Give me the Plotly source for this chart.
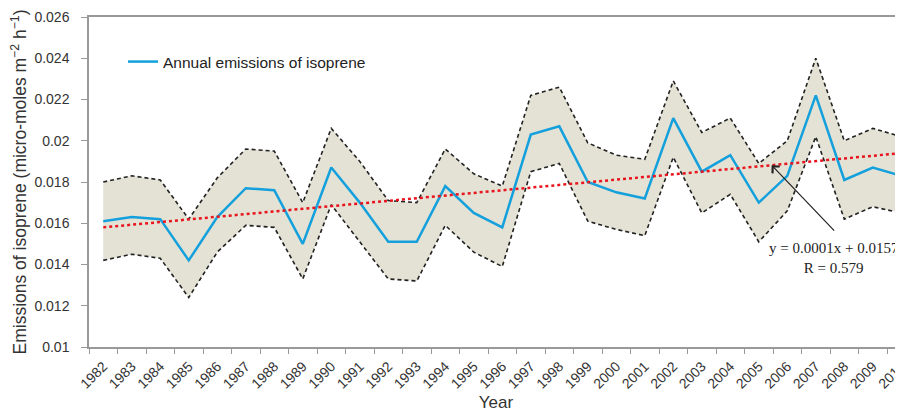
import plotly.graph_objects as go

years = [str(y) for y in range(1982, 2011)]

mean_emission = [0.0161, 0.0163, 0.0162, 0.0142, 0.0163, 0.0177, 0.0176, 0.0150, 0.0187, 0.0170,
                 0.0151, 0.0151, 0.0178, 0.0165, 0.0158, 0.0203, 0.0207, 0.0180, 0.0175, 0.0172,
                 0.0211, 0.0185, 0.0193, 0.0170, 0.0183, 0.0222, 0.0181, 0.0187, 0.0183]
upper_bound = [0.0180, 0.0183, 0.0181, 0.0162, 0.0182, 0.0196, 0.0195, 0.0170, 0.0206, 0.0190,
               0.0171, 0.0170, 0.0196, 0.0184, 0.0178, 0.0222, 0.0226, 0.0199, 0.0193, 0.0191,
               0.0229, 0.0204, 0.0211, 0.0189, 0.0200, 0.0240, 0.0200, 0.0206, 0.0202]
lower_bound = [0.0142, 0.0145, 0.0143, 0.0124, 0.0146, 0.0159, 0.0158, 0.0133, 0.0169, 0.0151,
               0.0133, 0.0132, 0.0159, 0.0146, 0.0139, 0.0185, 0.0189, 0.0161, 0.0157, 0.0154,
               0.0192, 0.0165, 0.0174, 0.0151, 0.0166, 0.0202, 0.0162, 0.0168, 0.0165]

trend_years = ["1982", "2010"]
trend_values = [0.0158, 0.0194]

y_ticks = [0.01, 0.012, 0.014, 0.016, 0.018, 0.02, 0.022, 0.024, 0.026]
y_tick_labels = ["0.01", "0.012", "0.014", "0.016", "0.018", "0.02", "0.022", "0.024", "0.026"]

FONT = "Liberation Sans, Arial, sans-serif"
# the page body has an 8px margin; size the figure so it fills the 903x412 window
OFF = 8
W, H = 903 - OFF, 412 - OFF
PL, PT, PB = 89, 17, 347          # plot area edges in window pixels
PW, PH = 903 - PL, PB - PT

fig = go.Figure()

fig.add_trace(go.Scatter(x=years, y=upper_bound, mode="lines", line=dict(width=0),
                         showlegend=False, hoverinfo="skip"))
fig.add_trace(go.Scatter(x=years, y=lower_bound, mode="lines", line=dict(width=0),
                         fill="tonexty", fillcolor="rgb(228,226,213)",
                         showlegend=False, hoverinfo="skip"))
for series in (upper_bound, lower_bound):
    fig.add_trace(go.Scatter(x=years, y=series, mode="lines",
                             line=dict(color="#222222", width=1.6, dash="4px,3px"),
                             showlegend=False))
fig.add_trace(go.Scatter(x=years, y=mean_emission, mode="lines",
                         name="Annual emissions of isoprene",
                         line=dict(color="#14a0dc", width=2.5)))
fig.add_trace(go.Scatter(x=trend_years, y=trend_values, mode="lines",
                         line=dict(color="#e8141e", width=2.5, dash="dot"),
                         showlegend=False))

arrow_x = 23.45
arrow_y = trend_values[0] + (trend_values[1] - trend_values[0]) * arrow_x / 28
fig.add_annotation(x=arrow_x, y=arrow_y, xref="x", yref="y", text="", showarrow=True,
                   ax=64, ay=67, arrowhead=4, arrowsize=1.6, arrowwidth=1.2, arrowcolor="#222222")
fig.add_annotation(x=(834 - PL) / PW, y=(PB - 258) / PH, xref="paper", yref="paper",
                   text="y = 0.0001x + 0.0157<br>R = 0.579", showarrow=False,
                   font=dict(family="Liberation Serif, Times New Roman, serif", size=15, color="#222222"),
                   align="center", xanchor="center", yanchor="middle")

fig.update_layout(
    width=W, height=H,
    margin=dict(l=PL - OFF, r=0, t=PT - OFF, b=412 - PB, autoexpand=False),
    paper_bgcolor="white", plot_bgcolor="white",
    font=dict(family=FONT, color="#333333"),
    legend=dict(x=(123 - PL) / PW, y=(PB - 62) / PH, xanchor="left", yanchor="middle",
                bgcolor="rgba(0,0,0,0)", font=dict(size=15.5, color="#222222")),
    xaxis=dict(type="category", range=[-0.5, 28.06], tickson="boundaries", automargin=False,
               ticks="outside", ticklen=5, tickcolor="#999999", ticklabelstandoff=4,
               showline=True, linecolor="#999999", linewidth=1.5, mirror=True,
               showgrid=False, tickangle=-45, tickfont=dict(size=14, color="#333333"),
               title=dict(text="Year", font=dict(size=17, color="#333333"), standoff=10)),
    yaxis=dict(range=[0.01, 0.026], tickvals=y_ticks, ticktext=y_tick_labels, automargin=False,
               ticks="outside", ticklen=6, tickcolor="#999999", ticklabelstandoff=9,
               showline=True, linecolor="#999999", linewidth=1.5,
               showgrid=False, zeroline=False, tickfont=dict(size=14, color="#333333"),
               title=dict(text="Emissions of isoprene (micro-moles m<sup>\u22122</sup> h<sup>\u22121</sup>)",
                          font=dict(size=17.5, color="#333333"), standoff=8)),
)

fig.write_html("out.html")
